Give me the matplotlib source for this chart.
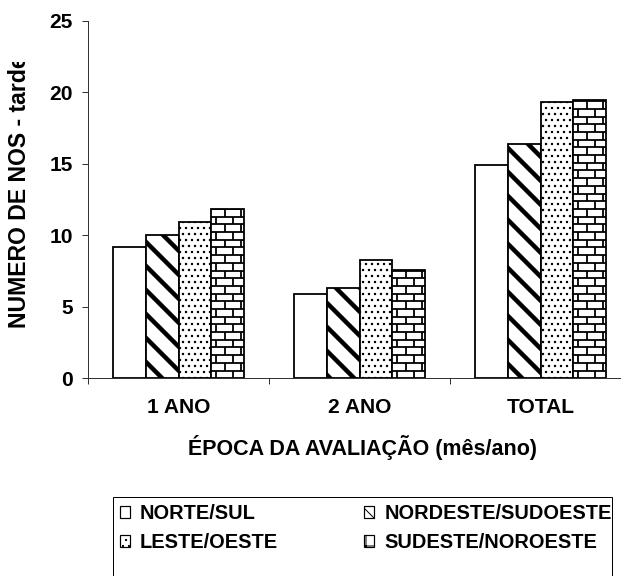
import numpy as np
import matplotlib
matplotlib.use('Agg')
import matplotlib.pyplot as plt
from matplotlib.patches import Rectangle, Patch
from matplotlib.collections import LineCollection
from matplotlib.transforms import Bbox, TransformedBbox

# values
categories = ['1 ANO', '2 ANO', 'TOTAL']
norte_sul = [9.15, 5.9, 14.9]
nordeste_sudoeste = [10.0, 6.3, 16.35]
leste_oeste = [10.95, 8.3, 19.3]
sudeste_noroeste = [11.85, 7.6, 19.45]
series_names = ['NORTE/SUL', 'NORDESTE/SUDOESTE', 'LESTE/OESTE', 'SUDESTE/NOROESTE']
yticks = [0, 5, 10, 15, 20, 25]

plt.rcParams['font.family'] = 'Liberation Sans'
plt.rcParams['font.weight'] = 'bold'

DPI = 72
W, H = 621, 576
fig = plt.figure(figsize=(W / DPI, H / DPI), dpi=DPI)
ax = fig.add_axes([88 / W, 1 - 378.3 / H, 543 / W, 357.8 / H])

x = np.arange(len(categories))
w = 0.182
series = [norte_sul, nordeste_sudoeste, leste_oeste, sudeste_noroeste]
hatches = [None, '\\', '..', None]
hatch_lw = [1.0, 4.5, 1.2, 1.0]

bar_groups = []
for i, (vals, hatch) in enumerate(zip(series, hatches)):
    with plt.rc_context({'hatch.linewidth': hatch_lw[i]}):
        bars = ax.bar(x + (i - 1.5) * w, vals, width=w, color='white',
                      edgecolor='black', linewidth=1.8, hatch=hatch, zorder=2)
    for p in bars:
        if hasattr(p, 'set_hatch_linewidth'):
            p.set_hatch_linewidth(hatch_lw[i])
    bar_groups.append(bars)

ax.set_xlim(-0.5, 2.5)
ax.set_ylim(0, 25)

# brick pattern for the last series
px_per_unit = 357.8 / 25
row_h = 7.7 / px_per_unit
for p in bar_groups[3]:
    x0, bw, bh = p.get_x(), p.get_width(), p.get_height()
    segs = []
    k = 0
    while k * row_h < bh:
        y0 = k * row_h
        y1 = min((k + 1) * row_h, bh)
        segs.append([(x0, y1), (x0 + bw, y1)])
        off = 0.15 if k % 2 == 0 else 0.40
        for j in range(2):
            xv = x0 + bw * (off + 0.5 * j)
            segs.append([(xv, y0), (xv, y1)])
        k += 1
    lc = LineCollection(segs, colors='black', linewidths=1.8, zorder=3)
    ax.add_collection(lc)
    lc.set_clip_path(p)

# axes styling
for s in ['top', 'right']:
    ax.spines[s].set_visible(False)
for s in ['left', 'bottom']:
    ax.spines[s].set_color('#333333')
    ax.spines[s].set_linewidth(1.0)

ax.set_yticks(yticks)
ax.set_yticklabels([str(v) for v in yticks], fontsize=21, fontweight='bold')
ax.tick_params(axis='y', direction='out', length=6, width=1, pad=9, color='#333333')

ax.set_xticks([-0.5, 0.5, 1.5, 2.5])
ax.set_xticklabels([])
ax.set_xticks(x, minor=True)
ax.set_xticklabels(categories, minor=True, fontsize=21, fontweight='bold')
ax.tick_params(axis='x', which='major', direction='out', length=6, width=1, color='#333333')
ax.tick_params(axis='x', which='minor', length=0, pad=20)

fig.text(362 / W, 1 - 447 / H, 'ÉPOCA DA AVALIAÇÃO (mês/ano)', ha='center', va='center',
         fontsize=21.5, fontweight='bold')

yl = fig.text(20 / W, 1 - 328 / H, 'NUMERO DE NOS - tarde', rotation=90,
              ha='center', va='bottom', fontsize=23, fontweight='bold')
yl.set_clip_box(TransformedBbox(Bbox([[0, 0], [1, 1 - 62 / H]]), fig.transFigure))
yl.set_clip_on(True)

# legend
legend_hatch = [None, '\\', '..', '+']
handles = []
for i, name in enumerate(series_names):
    handles.append(Patch(facecolor='white', edgecolor='black', linewidth=1.2,
                         hatch=legend_hatch[i], label=name))
order = [0, 2, 1, 3]
fig.legend([handles[i] for i in order], [series_names[i] for i in order],
           ncol=2, loc='upper left', bbox_to_anchor=(116 / W, 1 - 500 / H),
           frameon=False, fontsize=20, handlelength=0.5, handleheight=0.5,
           handletextpad=0.5, columnspacing=4.3, labelspacing=0.5,
           borderaxespad=0, borderpad=0.2)
fig.add_artist(Rectangle((113 / W, 1 - 600 / H), (612 - 113) / W, (600 - 497) / H,
                         transform=fig.transFigure, fill=False, ec='black', lw=1.0))

fig.savefig('out.png', dpi=DPI)
